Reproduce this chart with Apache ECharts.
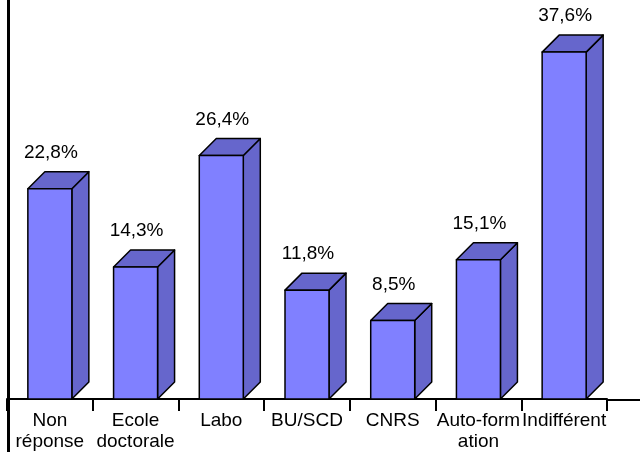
<!DOCTYPE html>
<html>
<head>
<meta charset="utf-8">
<script src="https://cdn.jsdelivr.net/npm/echarts@6/dist/echarts.min.js"></script>
<style>html,body{margin:0;padding:0;background:#fff}#c{width:640px;height:452px}</style>
</head>
<body>
<div id="c"></div>
<script>
const categories = ['Non\nréponse', 'Ecole\ndoctorale', 'Labo', 'BU/SCD', 'CNRS', 'Auto-form\nation', 'Indifférent'];
const values = [22.8, 14.3, 26.4, 11.8, 8.5, 15.1, 37.6];
const valueLabels = values.map(v => v.toFixed(1).replace('.', ',') + '%');

const chart = echarts.init(document.getElementById('c'), null, {renderer: 'canvas'});
const FONT = '"Liberation Sans", Arial, sans-serif';

function renderItem(params, api) {
  const c = api.value(0), v = api.value(1);
  const top = api.coord([c, v]);
  const base = api.coord([c, 0]);
  const w = 44, d = 17;
  const x0 = top[0] - w / 2, x1 = top[0] + w / 2, yt = top[1], yb = base[1];
  const edge = {stroke: '#000', lineWidth: 1.5, lineJoin: 'round'};
  return {
    type: 'group',
    children: [
      {type: 'polygon', shape: {points: [[x1, yt], [x1 + d, yt - d], [x1 + d, yb - d], [x1, yb]]},
        style: Object.assign({fill: '#6666CC'}, edge)},
      {type: 'polygon', shape: {points: [[x0, yt], [x0 + d, yt - d], [x1 + d, yt - d], [x1, yt]]},
        style: Object.assign({fill: '#6666CC'}, edge)},
      {type: 'rect', shape: {x: x0, y: yt, width: w, height: yb - yt},
        style: Object.assign({fill: '#8080FF'}, edge)},
      {type: 'text', x: top[0] + 1, y: yt - 36,
        style: {text: valueLabels[params.dataIndex], fill: '#000', font: '19px ' + FONT,
          textAlign: 'center', textVerticalAlign: 'middle'}}
    ]
  };
}

chart.setOption({
  backgroundColor: '#fff',
  animation: false,
  grid: {left: 7, width: 600, top: 0, height: 400},
  xAxis: {
    type: 'category',
    data: categories,
    axisLine: {lineStyle: {color: '#000', width: 2}},
    axisTick: {show: true, length: 12, lineStyle: {color: '#000', width: 2}},
    axisLabel: {color: '#000', fontSize: 19, fontFamily: FONT, lineHeight: 21, margin: 11, interval: 0}
  },
  yAxis: {
    type: 'value', min: 0, max: 43.25,
    axisLine: {show: false}, axisTick: {show: false}, axisLabel: {show: false}, splitLine: {show: false}
  },
  series: [{
    type: 'custom',
    renderItem: renderItem,
    clip: false,
    data: values.map((v, i) => [i, v])
  }],
  graphic: [
    {type: 'line', shape: {x1: 607, y1: 400, x2: 640, y2: 400}, style: {stroke: '#000', lineWidth: 2}, z: 10},
    {type: 'line', shape: {x1: 8.5, y1: 0, x2: 8.5, y2: 452}, style: {stroke: '#000', lineWidth: 3}, z: 10}
  ]
});
</script>
</body>
</html>
